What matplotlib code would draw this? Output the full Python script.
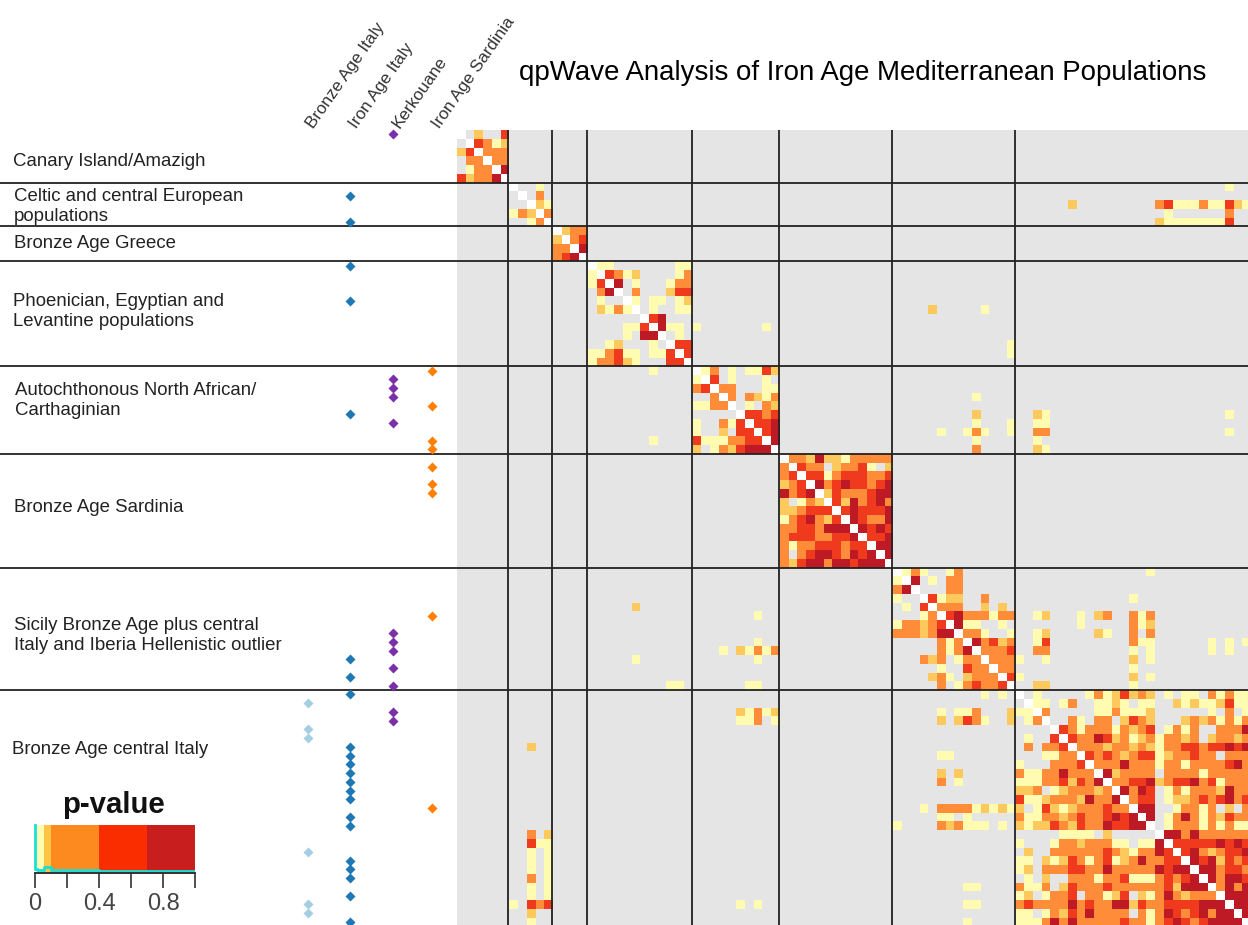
"""
qpWave pairwise p-value matrix for Iron Age Mediterranean populations.
Matrix is symmetric, so only the upper triangle of each block is kept.
Levels: 0 = n.s. (grey), 1 yellow, 2 light orange, 3 orange, 4 red, 5 dark red.
"""

import matplotlib
matplotlib.use("Agg")
import matplotlib.pyplot as plt
import numpy as np
from matplotlib.colors import ListedColormap

plt.rcParams["font.family"] = ["Liberation Sans", "DejaVu Sans"]

FIG_W, FIG_H = 1248, 925
CELL_W, CELL_H = 8.727, 8.75
HEAT_LEFT, HEAT_TOP = 457, 130

BLOCK_SIZES = [6, 5, 4, 12, 10, 13, 14, 27]

BLOCK_LABELS = [
    "Canary Island/Amazigh",
    "Celtic and central European\npopulations",
    "Bronze Age Greece",
    "Phoenician, Egyptian and\nLevantine populations",
    "Autochthonous North African/\nCarthaginian",
    "Bronze Age Sardinia",
    "Sicily Bronze Age plus central\nItaly and Iberia Hellenistic outlier",
    "Bronze Age central Italy",
]
COLUMN_LABELS = ["Bronze Age Italy", "Iron Age Italy", "Kerkouane", "Iron Age Sardinia"]

CANARY = ["02004", "4312", "333", "33", "5"]
CELTIC = ["0010", "030", "21", "3"]
GREECE = ["233", "34", "5"]
PHOENICIAN = [
    "11000000011", "4312000013", "501000133", "03000244", "1011012", "010011",
    "45000", "5110", "010", "44", "4",
]
AUTOCHTHONOUS = [
    "130101142", "40100010", "3300011", "303213", "01032", "4434", "445", "45", "5",
]
SARDINIA = [
    "332522133333", "43302334102", "4413444334", "534544345", "24333455",
    "4253453", "454445", "54335", "5454", "445", "55", "5",
]
SICILY = [
    "1310013000000", "501033000000", "00033000000", "4122003000", "333002020",
    "45333133", "5110010", "331001", "53423", "3334", "333", "33", "4",
]
CENTRAL_ITALY = [
    "01000001312423201011031311",
    "1101300112101100212112411",
    "300000113111200000010301",
    "00310330243200023231313",
    "4313331323401313003335",
    "433542312313323023323",
    "33323323213344344545",
    "4343234412334330333",
    "333533313313333453",
    "52333303333133333",
    "3344523445341333",
    "535401313332533",
    "34401223434534",
    "5500133130203",
    "501353132433",
    "01333131311",
    "5535333333",
    "444445454",
    "45323445",
    "5452434",
    "553443",
    "53554",
    "3535",
    "555",
    "55",
    "5",
]
BLOCKS = [CANARY, CELTIC, GREECE, PHOENICIAN, AUTOCHTHONOUS, SARDINIA, SICILY, CENTRAL_ITALY]

# (row, col, level) for significant pairs between populations
OFF_BLOCK = [
    (6, 88, 1), (8, 70, 2), (8, 80, 3), (8, 81, 4), (8, 82, 1), (8, 83, 1), (8, 84, 1),
    (8, 85, 3), (8, 86, 1), (8, 87, 1), (8, 88, 4), (8, 89, 2), (8, 90, 1), (9, 81, 1),
    (9, 88, 3), (10, 80, 2), (10, 81, 1), (10, 82, 1), (10, 83, 1), (10, 84, 1),
    (10, 85, 1), (10, 86, 1), (10, 87, 1), (10, 88, 4),
    (20, 54, 2), (20, 60, 1), (22, 27, 1), (22, 35, 1), (24, 63, 1), (25, 63, 1),
    (30, 59, 1), (32, 59, 2), (33, 59, 1), (34, 55, 1), (34, 58, 1), (34, 59, 3),
    (34, 60, 1), (34, 63, 1), (33, 63, 1), (35, 59, 1), (36, 59, 3),
    (32, 66, 2), (33, 66, 1), (34, 66, 3), (35, 66, 1), (36, 66, 2), (32, 67, 1),
    (33, 67, 1), (34, 67, 3), (36, 67, 1), (32, 88, 1), (34, 88, 1),
    (50, 79, 1), (53, 77, 1), (55, 66, 1), (55, 67, 2), (55, 71, 1), (55, 73, 2),
    (55, 74, 3), (55, 77, 3), (55, 78, 1), (55, 79, 3), (56, 71, 1), (56, 77, 3),
    (56, 78, 1), (56, 79, 2), (57, 66, 1), (57, 67, 2), (57, 73, 2), (57, 74, 1),
    (57, 77, 3), (57, 79, 3), (58, 66, 1), (58, 67, 4), (58, 77, 3), (58, 78, 1),
    (58, 79, 1), (58, 86, 1), (58, 88, 1), (58, 90, 1), (59, 66, 3), (59, 67, 3),
    (59, 77, 1), (59, 79, 1), (59, 86, 1), (59, 88, 1), (60, 64, 1), (60, 67, 1),
    (60, 77, 2), (60, 79, 1), (61, 77, 1), (62, 64, 1), (62, 77, 2), (62, 79, 1),
    (63, 66, 2), (63, 67, 2), (63, 77, 1),
]

BRONZE_ITALY_ROWS = [65, 68, 69, 82, 88, 89]
IRON_ITALY_ROWS = [7, 10, 15, 19, 32, 60, 62, 64, 70, 71, 72, 73, 74, 75, 76, 78, 79, 83, 84, 85, 87, 90]
KERKOUANE_ROWS = [0, 28, 29, 30, 33, 57, 58, 59, 61, 63, 66, 67]
IRON_SARDINIA_ROWS = [27, 31, 35, 36, 38, 40, 41, 55, 77]

LEGEND_EDGES = [0, 0.013, 0.054, 0.1, 0.4, 0.7, 1]
LEGEND_HIST = [0.09, 0.055, 0.125, 0.07, 0.05]

LEVEL_COLORS = ["#e5e5e5", "#fffcb2", "#fec95c", "#fe8c38", "#ef3a1e", "#bd1a26", "#ffffff"]
BAR_COLORS = ["#ffffff", "#fffcb2", "#fec444", "#fd8a1e", "#f92d00", "#c81e1e"]
MARKER_COLORS = ["#a6cee3", "#1f78b4", "#7b2fa8", "#ff7f00"]
MARKER_X = [308, 350, 393, 432]


def build_matrix():
    n = sum(BLOCK_SIZES)
    mat = np.zeros((n, n), dtype=int)
    start = 0
    for size, rows in zip(BLOCK_SIZES, BLOCKS):
        for i, row in enumerate(rows):
            for j, ch in enumerate(row):
                mat[start + i, start + i + 1 + j] = int(ch)
        start += size
    for r, c, level in OFF_BLOCK:
        mat[r, c] = level
    mat = mat + mat.T
    np.fill_diagonal(mat, 6)
    return mat


def px_axes(fig, left, top, width, height):
    return fig.add_axes([left / FIG_W, 1 - (top + height) / FIG_H, width / FIG_W, height / FIG_H])


def draw_legend(fig):
    ax = px_axes(fig, 35, 825, 160, 48)
    edges = np.array(LEGEND_EDGES)
    ax.bar(edges[:-1], 1, width=np.diff(edges), align="edge", color=BAR_COLORS)
    ax.plot([0, 0], [1, LEGEND_HIST[0]], color="#19e0d6", lw=2, clip_on=False)
    ax.step(edges[1:], LEGEND_HIST + [LEGEND_HIST[-1]], where="pre", color="#19e0d6", lw=2)
    ax.set_xlim(0, 1)
    ax.set_ylim(0, 1)
    ax.set_yticks([])
    ax.set_xticks([0, 0.2, 0.4, 0.6, 0.8, 1.0])
    ax.set_xticklabels(["0", "", "0.4", "", "0.8", ""])
    ax.tick_params(axis="x", length=10.5, width=1.2, color="#333333", labelsize=17,
                   labelcolor="#444444", pad=4)
    for side in ["top", "left", "right"]:
        ax.spines[side].set_visible(False)
    ax.spines["bottom"].set_linewidth(1.4)
    ax.spines["bottom"].set_color("#333333")
    ax.patch.set_alpha(0)


def main():
    mat = build_matrix()
    n = mat.shape[0]
    bounds = np.cumsum(BLOCK_SIZES)

    fig = plt.figure(figsize=(FIG_W / 100, FIG_H / 100), dpi=100)

    # heatmap
    ax = px_axes(fig, HEAT_LEFT, HEAT_TOP, n * CELL_W, n * CELL_H)
    ax.pcolormesh(np.arange(n + 1), np.arange(n + 1), mat,
                  cmap=ListedColormap(LEVEL_COLORS), vmin=-0.5, vmax=6.5)
    ax.set_xlim(0, n)
    ax.set_ylim(n, 0)
    ax.axis("off")
    ax.vlines(bounds[:-1] - 0.1, 0, n, color="#222222", lw=1.3)
    ax.hlines(bounds[:-1], 0, n, color="#222222", lw=1.3)

    # sample membership markers, same row scale as the heatmap
    left = px_axes(fig, 0, HEAT_TOP, HEAT_LEFT, n * CELL_H)
    left.set_xlim(0, HEAT_LEFT)
    left.set_ylim(n, 0)
    left.axis("off")
    left.hlines(bounds[:-1], 0, HEAT_LEFT, color="#222222", lw=1.3)
    member_rows = [BRONZE_ITALY_ROWS, IRON_ITALY_ROWS, KERKOUANE_ROWS, IRON_SARDINIA_ROWS]
    for x, rows, color in zip(MARKER_X, member_rows, MARKER_COLORS):
        left.plot([x] * len(rows), np.array(rows) + 0.5, ls="none", marker="D", ms=5.4,
                  color=color, mec="none", clip_on=False)

    # text layer in pixel coordinates
    over = fig.add_axes([0, 0, 1, 1])
    over.set_xlim(0, FIG_W)
    over.set_ylim(FIG_H, 0)
    over.axis("off")
    over.patch.set_alpha(0)

    label_x = [13, 14, 14, 13, 15, 14, 14, 12]
    label_y = [161, 206.5, 244, 311.5, 400.5, 507, 635.5, 749]
    for x, y, text in zip(label_x, label_y, BLOCK_LABELS):
        over.text(x, y, text, fontsize=13.4, color="#222222", va="center", ha="left",
                  linespacing=1.26)

    col_x = [316, 359, 402, 442]
    for x, text in zip(col_x, COLUMN_LABELS):
        over.text(x, 131, text, fontsize=12.3, color="#333333", rotation=55,
                  rotation_mode="anchor", ha="left", va="bottom")

    over.text(519, 73, "qpWave Analysis of Iron Age Mediterranean Populations",
              fontsize=19.9, color="black", ha="left", va="center")
    over.text(113, 805, "p-value", fontsize=21.2, fontweight="bold", color="#111111",
              ha="center", va="center")

    draw_legend(fig)

    fig.savefig("out.png", dpi=100)
    plt.close(fig)


if __name__ == "__main__":
    main()
